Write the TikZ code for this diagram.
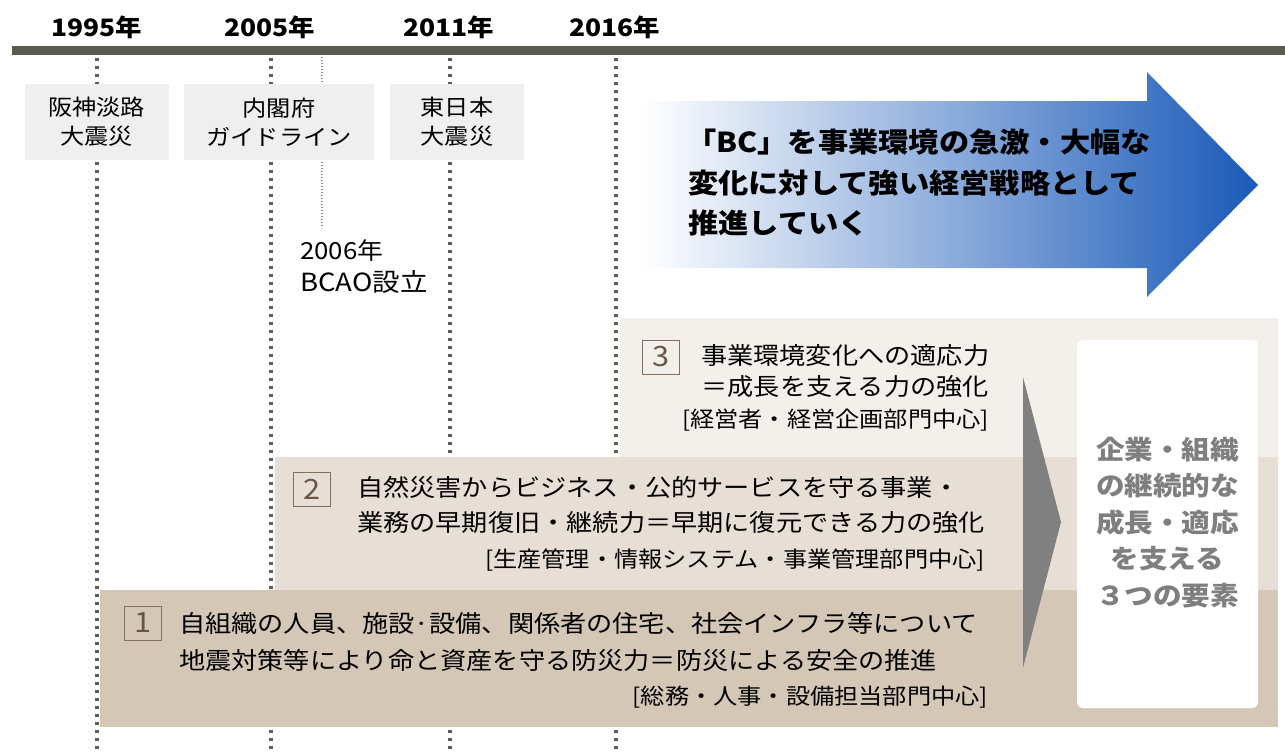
\documentclass[tikz,border=0pt]{standalone}
\usepackage{fontspec}
\setmainfont{Noto Sans CJK JP}[FakeStretch=1.1]
\definecolor{barcol}{HTML}{5A5A50}
\definecolor{dotcol}{HTML}{5E5E58}
\definecolor{thincol}{HTML}{8A8A8A}
\definecolor{lblfill}{HTML}{EFEFEF}
\definecolor{bandA}{HTML}{F3F0EB}
\definecolor{bandB}{HTML}{E7DFD5}
\definecolor{bandC}{HTML}{D4C7B6}
\definecolor{arrowblue}{HTML}{1A5AB8}
\definecolor{numborder}{HTML}{86705A}
\definecolor{numtext}{HTML}{6A5646}
\definecolor{sumgray}{HTML}{7F7F7F}
\definecolor{trigray}{HTML}{808080}
\begin{document}
\begin{tikzpicture}[x=1pt,y=-1pt,
  yearlbl/.style={inner sep=0pt, font=\fontsize{24}{28}\selectfont\bfseries},
  evbox/.style={fill=lblfill, inner sep=0pt, align=center, minimum width=#1, minimum height=76pt, font=\fontsize{22}{29}\selectfont},
  dotline/.style={draw=dotcol, line width=3.2pt, dash pattern=on 3.2pt off 4.8pt},
  thindot/.style={draw=thincol, line width=1.3pt, dash pattern=on 1.3pt off 1.7pt},
  arrtxt/.style={inner sep=0pt, anchor=west, font=\fontsize{27.5}{33}\selectfont\bfseries},
  maintxt/.style={inner sep=0pt, font=\fontsize{23.8}{28}\selectfont},
  subtxt/.style={inner sep=0pt, anchor=east, font=\fontsize{22}{26}\selectfont},
  numbox/.style={draw=numborder, line width=1pt, fill=none, text=numtext, minimum width=37pt, minimum height=34pt, inner sep=0pt, font=\fontsize{28}{30}\selectfont},
  sumtxt/.style={inner sep=0pt, align=center, text=sumgray, font=\fontsize{26}{36.5}\selectfont\bfseries}
]
\useasboundingbox (0,0) rectangle (1285,752);

% timeline coordinates
\coordinate (t1) at (97,58);  \coordinate (b1) at (97,752);
\coordinate (t2) at (271,58); \coordinate (b2) at (271,752);
\coordinate (t3) at (450,58); \coordinate (b3) at (450,752);
\coordinate (t4) at (616,58); \coordinate (b4) at (616,752);
\coordinate (t5) at (322,57); \coordinate (b5) at (322,228);

\draw[dotline] (t1) -- (b1);
\draw[dotline] (t2) -- (b2);
\draw[dotline] (t3) -- (b3);
\draw[dotline] (t4) -- (b4);
\draw[thindot] (t5) -- (b5);

% bar
\fill[barcol] (12,46.5) rectangle (1285,55);

% years
\node[yearlbl] (y1995) at (97,27) {1995年};
\node[yearlbl] (y2005) at (270,27) {2005年};
\node[yearlbl] (y2011) at (449,27) {2011年};
\node[yearlbl] (y2016) at (615,27) {2016年};

% event boxes
\node[evbox=144pt] (ev1) at (96.5,122) {阪神淡路\\大震災};
\node[evbox=190pt] (ev2) at (279,122) {内閣府\\ガイドライン};
\node[evbox=134pt] (ev3) at (457,122) {東日本\\大震災};

\node[inner sep=0pt, anchor=west, font=\fontsize{23.5}{26}\selectfont] (bc1) at (300,251) {2006年};
\node[inner sep=0pt, anchor=west, font=\fontsize{25}{28}\selectfont] (bc2) at (300,282) {BCAO設立};

% big arrow
\shade[left color=white, right color=arrowblue]
  (641,101) -- (1147,101) -- (1147,72) -- (1258,185) -- (1147,297) -- (1147,268) -- (641,268) -- cycle;
\node[arrtxt] (a1) at (686,142) {「BC」を事業環境の急激・大幅な};
\node[arrtxt] (a2) at (688,183) {変化に対して強い経営戦略として};
\node[arrtxt] (a3) at (688,223) {推進していく};

% bands
\fill[bandA] (620,318) rectangle (1278,457);
\fill[bandB] (275,457) rectangle (1278,590);
\fill[bandC] (100,590) rectangle (1278,727);

% triangle and summary box
\fill[trigray] (1023,377) -- (1061,522) -- (1023,668) -- cycle;
\node[fill=white, rounded corners=6pt, minimum width=181pt, minimum height=368pt, inner sep=0pt] (sum) at (1167.5,524) {};
\node[sumtxt] (sumt) at (1167.5,522.5) {企業・組織\\の継続的な\\成長・適応\\を支える\\３つの要素};

% band 3
\node[numbox] (n3) at (661,357) {3};
\node[maintxt, anchor=west] (l31) at (701,355) {事業環境変化への適応力};
\node[maintxt, anchor=east] (l32) at (989,387) {＝成長を支える力の強化};
\node[subtxt] (l33) at (989,420) {[経営者・経営企画部門中心]};

% band 2
\node[numbox] (n2) at (312,489) {2};
\node[maintxt, anchor=west] (l21) at (357,487) {自然災害からビジネス・公的サービスを守る事業・};
\node[maintxt, anchor=west] (l22) at (357,523) {業務の早期復旧・継続力＝早期に復元できる力の強化};
\node[subtxt] (l23) at (985,560) {[生産管理・情報システム・事業管理部門中心]};

% band 1
\node[numbox] (n1) at (143,623) {1};
\node[maintxt, anchor=west] (l11) at (179,623) {自組織の人員、施設·設備、関係者の住宅、社会インフラ等について};
\node[maintxt, anchor=west] (l12) at (179,660) {地震対策等により命と資産を守る防災力＝防災による安全の推進};
\node[subtxt] (l13) at (988,697) {[総務・人事・設備担当部門中心]};
\end{tikzpicture}
\end{document}
